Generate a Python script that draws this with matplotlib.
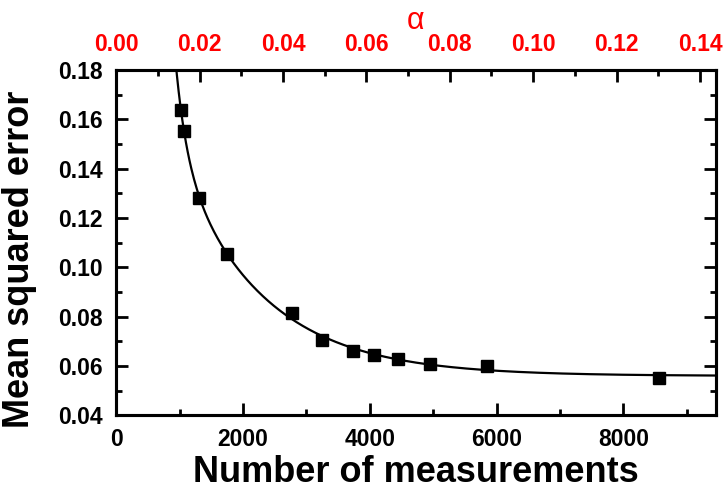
import numpy as np
import matplotlib
matplotlib.use("Agg")
import matplotlib.pyplot as plt
from matplotlib.ticker import MultipleLocator, FormatStrFormatter

# Data
n_meas = [1020, 1073, 1314, 1746, 2771, 3244, 3743, 4074, 4443, 4953, 5847, 8569]
mse = [0.1638, 0.1552, 0.1282, 0.1052, 0.0813, 0.0706, 0.0660, 0.0645, 0.0627, 0.0606, 0.0600, 0.0552]

x_ticks = [0, 2000, 4000, 6000, 8000]
y_ticks = [0.04, 0.06, 0.08, 0.10, 0.12, 0.14, 0.16, 0.18]
alpha_ticks = [0.00, 0.02, 0.04, 0.06, 0.08, 0.10, 0.12, 0.14]

x = np.array(n_meas, float)
y = np.array(mse, float)

# Second-order exponential decay fit (grid search on time constants, linear LSQ for amplitudes)
best = None
for t1 in np.linspace(50, 1500, 146):
    for t2 in np.linspace(500, 6000, 111):
        if t2 <= t1:
            continue
        M = np.column_stack([np.ones_like(x), np.exp(-x / t1), np.exp(-x / t2)])
        coef, *_ = np.linalg.lstsq(M, y, rcond=None)
        r = np.sum((M @ coef - y) ** 2)
        if best is None or r < best[0]:
            best = (r, t1, t2, coef)
_, t1, t2, coef = best
xf = np.linspace(900, 9460, 600)
yf = coef[0] + coef[1] * np.exp(-xf / t1) + coef[2] * np.exp(-xf / t2)

plt.rcParams['font.family'] = ['Liberation Sans', 'DejaVu Sans']
fig = plt.figure(figsize=(7.26, 4.99), dpi=100)
ax = fig.add_axes([0.160, 0.168, 0.826, 0.692])

ax.plot(xf, yf, color='black', lw=1.6, zorder=2)
ax.plot(x, y, 's', color='black', markersize=9, zorder=3)

ax.set_xlim(0, 9460)
ax.set_ylim(0.04, 0.18)
ax.set_xticks(x_ticks)
ax.set_yticks(y_ticks)
ax.xaxis.set_minor_locator(MultipleLocator(1000))
ax.yaxis.set_minor_locator(MultipleLocator(0.01))
ax.yaxis.set_major_formatter(FormatStrFormatter('%.2f'))

for s in ax.spines.values():
    s.set_linewidth(2.2)

ax.tick_params(which='both', direction='in', top=False, right=True, width=2)
ax.tick_params(which='major', length=8.5, labelsize=16.5)
ax.tick_params(which='minor', length=4.5)
ax.tick_params(axis='x', which='major', pad=9)
ax.tick_params(axis='y', which='major', pad=10)
for lab in ax.get_xticklabels() + ax.get_yticklabels():
    lab.set_fontweight('bold')

ax.set_xlabel('Number of measurements', fontsize=26, fontweight='bold', labelpad=3)
ax.set_ylabel('Mean squared error', fontsize=26, fontweight='bold')
ax.yaxis.set_label_coords(-0.132, 0.45)

ax2 = ax.twiny()
ax2.set_xlim(0, 0.1438)
ax2.set_xticks(alpha_ticks)
ax2.xaxis.set_minor_locator(MultipleLocator(0.01))
ax2.xaxis.set_major_formatter(FormatStrFormatter('%.2f'))
ax2.tick_params(which='both', direction='in', width=2, colors='black', labelcolor='red')
ax2.tick_params(which='major', length=8.5, labelsize=16.5, pad=10)
ax2.tick_params(which='minor', length=4.5)
for lab in ax2.get_xticklabels():
    lab.set_fontweight('bold')
ax2.set_xlabel('α', color='red', fontsize=22, labelpad=3)
for s in ax2.spines.values():
    s.set_linewidth(2.2)

fig.savefig('out.png', dpi=100)
